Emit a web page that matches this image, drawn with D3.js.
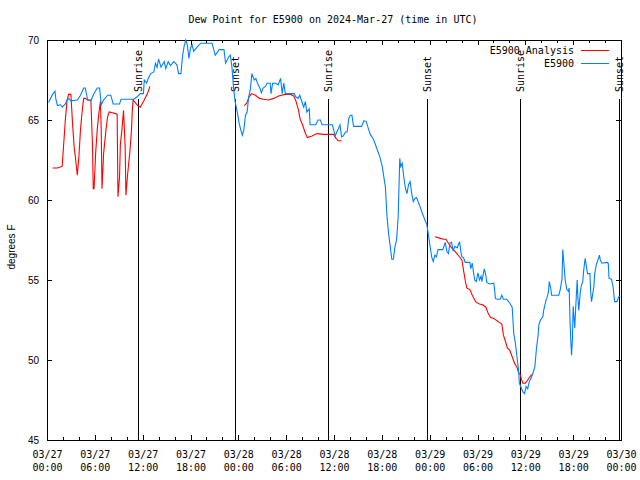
<!DOCTYPE html>
<html><head><meta charset="utf-8">
<script src="https://cdn.jsdelivr.net/npm/d3@7"></script>
<style>body{margin:0;background:#fff}svg{display:block}</style>
</head><body>
<svg id="c" width="640" height="480"></svg>
<script>
// ---- data (hours after 2024-03-27 00:00 UTC) ----
const startUTC = Date.UTC(2024, 2, 27, 0, 0);
const titleText = "Dew Point for E5900 on 2024-Mar-27 (time in UTC)";
const yLabelText = "degrees F";
const seriesNames = ["E5900 Analysis", "E5900"];
const yTickValues = [45, 50, 55, 60, 65, 70];

const blueHours = [0.2,0.7,1.0,1.1,1.3,1.7,1.9,2.3,2.5,2.7,3.0,3.8,4.2,4.6,4.8,5.1,5.5,5.9,6.3,6.6,6.8,7.1,7.6,8.0,8.3,9.1,9.3,10.9,11.3,11.7,12.1,12.2,12.5,12.7,13.0,13.4,13.6,13.8,14.0,14.3,14.7,14.9,15.2,15.5,15.9,16.3,16.5,16.8,17.0,17.2,17.4,17.6,17.8,18.0,18.2,18.4,18.9,19.3,20.7,21.1,21.6,22.2,22.4,22.8,23.0,23.2,23.4,23.6,23.9,24.1,24.3,24.5,24.7,24.9,25.1,25.3,25.5,25.7,26.0,26.2,26.4,26.7,26.9,27.1,27.4,27.6,28.0,28.1,28.3,28.7,29.0,29.3,29.5,29.7,29.9,31.0,31.2,31.5,31.7,31.9,32.2,32.4,32.6,32.9,33.0,33.7,34.0,34.3,34.5,35.8,35.95,36.15,36.35,36.55,36.75,36.95,37.15,37.45,37.65,37.85,38.05,38.25,38.45,39.45,39.75,40.05,40.35,40.55,40.95,41.35,41.75,42.05,42.25,42.45,42.65,42.85,43.05,43.25,43.45,43.65,43.85,44.05,44.25,44.35,44.55,44.75,44.95,45.15,45.35,45.55,45.75,45.95,46.15,46.35,46.55,46.85,47.05,47.25,47.65,47.85,48.05,48.25,48.45,48.65,48.85,49.05,49.65,49.95,50.15,50.35,50.55,50.75,50.95,51.15,51.45,51.75,51.95,52.05,52.25,52.45,53.05,53.15,53.35,53.45,53.65,53.85,54.05,54.25,54.45,54.55,54.85,55.05,55.15,55.55,56.05,56.25,56.45,56.85,57.05,57.25,57.65,58.05,58.35,58.55,58.75,58.95,59.15,59.25,59.5,59.7,59.9,60.1,60.3,60.5,60.8,61.0,61.2,61.4,61.6,61.7,61.9,62.2,62.3,62.6,62.7,62.9,63.0,63.2,63.3,64.2,64.4,64.6,64.7,64.8,65.0,65.2,65.4,65.5,65.6,65.7,65.8,65.9,66.0,66.1,66.2,66.3,66.5,66.6,66.7,66.9,67.0,67.2,67.3,67.5,67.6,67.8,68.1,68.2,68.3,68.4,68.6,68.7,68.9,69.3,69.4,69.6,70.2,70.4,70.5,70.8,71.0,71.2,71.5,71.7,71.9];
const blueValues = [66.1,66.6,66.8,66.35,65.9,65.95,65.8,66.0,66.25,66.35,66.2,66.25,66.55,67.0,67.0,66.25,66.2,66.65,67.0,67.0,65.95,66.25,66.55,66.55,66.0,66.0,66.3,66.3,66.45,66.65,66.65,67.5,67.3,67.6,67.9,68.0,68.55,68.3,68.8,68.3,68.65,68.2,68.65,68.4,68.65,68.45,67.9,67.9,69.0,69.6,70.0,69.7,68.85,69.5,69.7,69.3,69.6,69.8,69.8,69.05,69.4,69.4,68.55,68.95,69.05,68.3,67.0,66.15,65.4,64.8,64.4,64.05,64.4,65.3,65.5,66.45,66.9,67.9,67.5,67.6,67.3,67.0,66.7,67.0,67.1,67.3,67.3,66.65,67.3,67.3,67.2,67.6,66.65,67.3,66.65,66.65,66.45,66.35,66.55,66.25,65.8,66.15,65.5,65.7,64.7,64.7,65.0,65.0,64.7,64.7,64.4,64.0,64.25,64.45,64.7,63.95,64.0,64.25,64.25,65.1,65.3,65.3,64.6,64.6,64.95,64.9,64.4,64.1,63.8,63.25,62.7,62.1,61.45,60.8,58.95,57.9,57.1,56.3,56.3,57.1,57.5,58.95,62.6,62.1,62.3,61.45,60.75,60.4,60.95,61.15,60.4,59.9,60.1,60.15,59.9,59.5,59.2,58.95,58.45,57.8,57.1,56.45,56.15,56.55,56.45,56.9,56.9,57.35,56.8,56.65,57.3,57.35,56.8,57.1,57.0,57.4,56.65,56.45,56.4,56.1,56.1,55.7,56.05,55.65,55.0,54.9,55.45,55.0,55.25,54.9,55.7,55.3,54.85,54.75,54.8,53.85,53.8,53.8,54.05,53.8,53.8,53.55,53.3,51.65,51.05,50.2,49.4,48.55,48.25,48.0,47.9,48.35,48.2,48.65,48.95,49.25,49.6,50.75,51.55,52.2,52.5,52.7,53.1,53.75,53.85,54.25,54.9,54.45,54.05,54.05,54.45,55.1,56.9,56.25,55.0,54.4,54.3,54.5,52.5,51.25,50.3,51.25,53.35,52.7,52.0,53.1,55.0,53.85,53.1,54.25,54.6,54.9,55.5,56.35,56.05,55.4,55.4,54.2,53.65,53.95,54.6,55.4,55.95,56.55,56.25,56.05,56.1,56.05,55.1,55.05,54.6,53.65,53.65,53.95,54.0];

// analysis series: null marks a gap between runs
const redHours = [0.7,1.3,1.9,2.1,2.3,2.5,2.7,3.0,3.2,3.4,3.6,3.8,4.0,4.2,4.4,4.6,4.8,5.1,5.5,5.7,5.8,5.9,6.1,6.3,6.5,6.7,6.8,6.9,7.1,7.4,7.6,7.8,8.2,8.6,8.8,8.9,9.1,9.2,9.4,9.6,9.8,9.9,10.1,10.4,10.6,10.7,10.8,11.3,11.7,12.2,12.6,12.9,
  null,
  24.75,25.05,25.35,25.65,26.15,26.65,27.15,27.75,28.45,29.05,29.85,30.55,30.95,31.25,31.55,31.75,32.05,32.35,32.65,33.25,33.85,34.65,35.95,36.25,36.55,36.95,
  null,
  48.65,49.35,49.75,50.05,50.35,50.75,51.15,51.65,52.05,52.25,52.45,52.65,53.05,53.35,53.65,53.85,54.25,54.65,55.05,55.35,55.65,56.05,56.45,56.75,57.05,57.25,57.45,57.75,58.05,58.35,58.65,58.95,59.15,59.35,59.5,59.7,60.0,60.3,60.8];
const redValues = [62.0,62.0,62.1,63.55,65.0,66.15,66.6,66.6,64.8,63.35,62.5,61.55,62.7,64.4,65.5,66.35,66.35,66.25,66.25,63.55,60.7,60.7,62.9,64.4,65.4,66.15,64.4,60.7,62.9,64.4,65.2,65.5,65.45,65.4,65.35,60.2,61.45,63.45,64.4,65.6,63.35,60.3,61.55,63.05,64.4,65.6,66.25,65.95,65.8,66.25,66.65,67.1,
  null,
  65.9,66.05,66.45,66.65,66.55,66.35,66.3,66.25,66.35,66.5,66.6,66.6,66.5,66.15,65.6,65.05,64.7,64.25,63.9,64.0,64.15,64.1,64.1,63.85,63.7,63.7,
  null,
  57.7,57.6,57.55,57.55,57.3,57.0,56.8,56.5,56.25,55.6,55.0,54.5,54.4,54.05,53.75,53.6,53.5,53.45,53.3,52.9,52.65,52.6,52.45,52.35,52.25,51.55,51.25,50.75,50.6,50.2,49.8,49.55,49.2,49.1,48.8,48.55,48.55,48.75,49.1];

const sunriseHours = [11.4, 35.3, 59.35];
const sunsetHours = [23.55, 47.65, 71.75];

// ---- chart ----
const toDate = h => new Date(startUTC + h * 3600e3);
const mono = "'DejaVu Sans Mono', 'Liberation Mono', monospace";
const sans = "'Liberation Sans', Arial, sans-serif";
const svg = d3.select("#c");
const L = 47, R = 621, T = 40, B = 440;
const x = d3.scaleUtc().domain([toDate(0), toDate(72)]).range([L, R]);
const y = d3.scaleLinear().domain([45, 70]).range([B, T]);

// title
svg.append("text").attr("x", 333).attr("y", 23).attr("text-anchor", "middle")
  .style("font-family", mono).style("font-size", "10px").text(titleText);

// y label
svg.append("text").attr("transform", "translate(15,247) rotate(-90)")
  .attr("text-anchor", "middle").style("font-family", sans).style("font-size", "10px").text(yLabelText);

const minorTicks = d3.utcHour.every(2).range(toDate(0), toDate(72.01));
const majorTicks = d3.utcHour.every(6).range(toDate(0), toDate(72.01));

function styleAxis(g) {
  g.select(".domain").remove();
  g.selectAll("line").attr("stroke", "#000").attr("shape-rendering", "crispEdges");
}
// bottom minor + major (inward)
svg.append("g").attr("transform", `translate(0,${B})`)
  .call(d3.axisBottom(x).tickValues(minorTicks).tickSizeInner(-3).tickSizeOuter(0).tickFormat(""))
  .call(styleAxis);
const bx = svg.append("g").attr("transform", `translate(0,${B})`)
  .call(d3.axisBottom(x).tickValues(majorTicks).tickSizeInner(-5).tickSizeOuter(0).tickFormat(""))
  .call(styleAxis);
bx.selectAll(".tick text").remove();
bx.selectAll(".tick").append("text")
  .style("font-family", mono).style("font-size", "10px").attr("fill", "#000")
  .attr("text-anchor", "middle")
  .each(function(d) {
    const t = d3.select(this);
    t.append("tspan").attr("x", 0).attr("y", 18).text(d3.utcFormat("%m/%d")(d));
    t.append("tspan").attr("x", 0).attr("y", 31).text(d3.utcFormat("%H:%M")(d));
  });
// top ticks
svg.append("g").attr("transform", `translate(0,${T})`)
  .call(d3.axisTop(x).tickValues(minorTicks).tickSizeInner(-3).tickSizeOuter(0).tickFormat(""))
  .call(styleAxis);
svg.append("g").attr("transform", `translate(0,${T})`)
  .call(d3.axisTop(x).tickValues(majorTicks).tickSizeInner(-5).tickSizeOuter(0).tickFormat(""))
  .call(styleAxis);
// left axis
const ly = svg.append("g").attr("transform", `translate(${L},0)`)
  .call(d3.axisLeft(y).tickValues(yTickValues).tickSizeInner(-5).tickSizeOuter(0).tickPadding(8))
  .call(styleAxis);
ly.selectAll("text").style("font-family", sans).style("font-size", "10px").attr("fill", "#000");
// right ticks
svg.append("g").attr("transform", `translate(${R},0)`)
  .call(d3.axisRight(y).tickValues(yTickValues).tickSizeInner(-5).tickSizeOuter(0).tickFormat(""))
  .call(styleAxis);

// frame
svg.append("rect").attr("x", L + 0.5).attr("y", T + 0.5).attr("width", R - L).attr("height", B - T)
  .attr("fill", "none").attr("stroke", "#000").attr("shape-rendering", "crispEdges");

// sunrise / sunset markers
const events = sunriseHours.map(h => ({h, label: "Sunrise"}))
  .concat(sunsetHours.map(h => ({h, label: "Sunset"})));
events.forEach(e => {
  const xp = Math.round(x(toDate(e.h))) + 0.5;
  svg.append("line").attr("x1", xp).attr("x2", xp).attr("y1", 99).attr("y2", B)
    .attr("stroke", "#000").attr("shape-rendering", "crispEdges");
  svg.append("text").attr("transform", `translate(${xp},92) rotate(-90)`)
    .attr("text-anchor", "start").attr("dy", "0.35em")
    .style("font-family", mono).style("font-size", "10px").text(e.label);
});

// series
const line = d3.line().defined(d => d.v !== null).x(d => x(toDate(d.h))).y(d => y(d.v));
const blue = blueHours.map((h, i) => ({h, v: blueValues[i]}));
const red = redHours.map((h, i) => ({h: h === null ? 0 : h, v: h === null ? null : redValues[i]}));
svg.append("path").datum(red).attr("d", line).attr("fill", "none").attr("stroke", "#ff0000").attr("stroke-width", 1.1);
svg.append("path").datum(blue).attr("d", line).attr("fill", "none").attr("stroke", "#0080ff").attr("stroke-width", 1.1);

// legend
const legend = [{name: seriesNames[0], color: "#ff0000", yy: 50}, {name: seriesNames[1], color: "#0080ff", yy: 63}];
legend.forEach(l => {
  svg.append("text").attr("x", 574).attr("y", l.yy + 4).attr("text-anchor", "end")
    .style("font-family", mono).style("font-size", "10px").text(l.name);
  svg.append("line").attr("x1", 581).attr("x2", 609).attr("y1", l.yy + 0.5).attr("y2", l.yy + 0.5)
    .attr("stroke", l.color).attr("stroke-width", 1);
});
</script>
</body></html>
